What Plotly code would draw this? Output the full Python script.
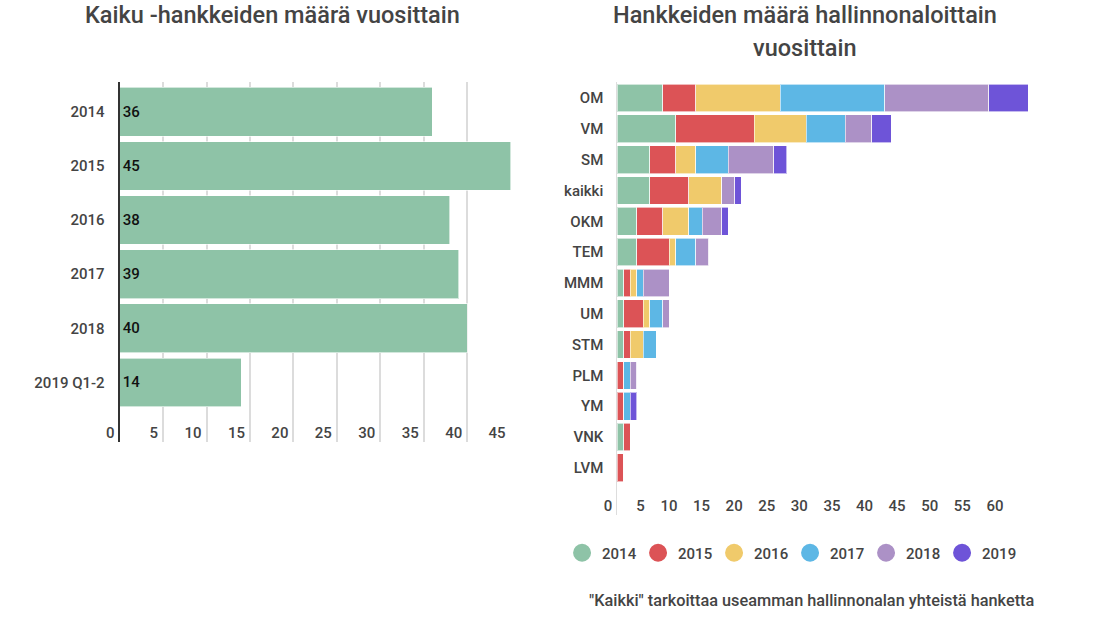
import plotly.graph_objects as go

# Vasen kaavio: hankkeet vuosittain
vuodet = ["2014", "2015", "2016", "2017", "2018", "2019 Q1-2"]
hankkeet = [36, 45, 38, 39, 40, 14]

# Oikea kaavio: hallinnonalat vuosittain
hallinnonalat = ["OM", "VM", "SM", "kaikki", "OKM", "TEM", "MMM", "UM", "STM", "PLM", "YM", "VNK", "LVM"]
sarjat = ["2014", "2015", "2016", "2017", "2018", "2019"]
arvot = {
    "2014": [7, 9, 5, 5, 3, 3, 1, 1, 1, 0, 0, 1, 0],
    "2015": [5, 12, 4, 6, 4, 5, 1, 3, 1, 1, 1, 1, 1],
    "2016": [13, 8, 3, 5, 4, 1, 1, 1, 2, 0, 0, 0, 0],
    "2017": [16, 6, 5, 0, 2, 3, 1, 2, 2, 1, 1, 0, 0],
    "2018": [16, 4, 7, 2, 3, 2, 4, 1, 0, 1, 0, 0, 0],
    "2019": [6, 3, 2, 1, 1, 0, 0, 0, 0, 0, 1, 0, 0],
}
varit = ["#8ec3a7", "#dc5356", "#f0ca6b", "#5db7e5", "#ac91c6", "#6e54d8"]

W, H = 1107, 617
FONT = "Roboto"
TXT = "#444444"


def px_x(v):
    return v / W


def px_y(v):
    return 1 - v / H


fig = go.Figure()

fig.add_trace(go.Bar(
    x=hankkeet, y=vuodet, orientation="h",
    marker=dict(color="#8ec3a7", line=dict(color="rgba(255,255,255,0.6)", width=1)),
    width=0.9,
    text=[str(v) for v in hankkeet],
    textposition="inside", insidetextanchor="start",
    textfont=dict(family=FONT, size=15, color="#111111", weight=500),
    showlegend=False, xaxis="x", yaxis="y", hoverinfo="x+y",
))

for s, c in zip(sarjat, varit):
    fig.add_trace(go.Bar(
        x=arvot[s], y=hallinnonalat, orientation="h", name=s,
        marker=dict(color=c, line=dict(color="rgba(255,255,255,0.6)", width=1)),
        width=0.9, showlegend=False, xaxis="x2", yaxis="y2",
    ))
    # selitteen ympyrät
    fig.add_trace(go.Scatter(
        x=[None], y=[None], mode="markers", name=s,
        marker=dict(color=c, size=18, symbol="circle", line=dict(color=c, width=2)),
        xaxis="x2", yaxis="y2", showlegend=True,
    ))

tick_font = dict(family=FONT, size=15, color=TXT, weight=500)
title_font = dict(family=FONT, size=23.5, color=TXT, weight=500)

fig.update_layout(
    width=W, height=H,
    margin=dict(l=0, r=0, t=0, b=0),
    paper_bgcolor="white", plot_bgcolor="white",
    barmode="stack",
    font=dict(family=FONT, color=TXT),
    xaxis=dict(
        domain=[px_x(107), px_x(503)], range=[0, 45],
        tickvals=[0, 5, 10, 15, 20, 25, 30, 35, 40, 45],
        showgrid=True, gridcolor="#dcdcdc", gridwidth=2,
        zeroline=False, showline=False,
        anchor="free", position=px_y(422),
        ticklabelposition="outside left", ticklabelshift=-5,
        tickfont=tick_font,
    ),
    yaxis=dict(
        domain=[px_y(442), px_y(82)],
        categoryorder="array", categoryarray=vuodet,
        range=[6.1, -0.55],
        showgrid=False, zeroline=False,
        showline=True, linecolor="#333333", linewidth=2,
        ticks="", ticklabelstandoff=10,
        tickfont=tick_font,
        anchor="x",
    ),
    xaxis2=dict(
        domain=[px_x(611), px_x(1027)], range=[0, 63],
        tickvals=[0, 5, 10, 15, 20, 25, 30, 35, 40, 45, 50, 55, 60],
        showgrid=False, zeroline=False, showline=False,
        anchor="free", position=px_y(495),
        ticklabelposition="outside left", ticklabelshift=-5,
        tickfont=tick_font,
    ),
    yaxis2=dict(
        domain=[px_y(515), px_y(82)],
        categoryorder="array", categoryarray=hallinnonalat,
        range=[13.53, -0.52],
        showgrid=False, zeroline=False,
        showline=True, linecolor="#dddddd", linewidth=1,
        ticks="", ticklabelstandoff=10,
        tickfont=tick_font,
        anchor="x2",
    ),
    legend=dict(
        orientation="h", x=px_x(786), xanchor="center", y=px_y(553), yanchor="middle",
        font=dict(family=FONT, size=15, color=TXT, weight=500),
        itemsizing="trace", entrywidth=31, traceorder="normal",
        bgcolor="rgba(0,0,0,0)",
    ),
    annotations=[
        dict(text="Kaiku -hankkeiden määrä vuosittain", x=px_x(262), y=px_y(15),
             xref="paper", yref="paper", showarrow=False, xanchor="center", yanchor="middle",
             font=title_font),
        dict(text="Hankkeiden määrä hallinnonaloittain", x=px_x(801), y=px_y(15),
             xref="paper", yref="paper", showarrow=False, xanchor="center", yanchor="middle",
             font=title_font),
        dict(text="vuosittain", x=px_x(801), y=px_y(48),
             xref="paper", yref="paper", showarrow=False, xanchor="center", yanchor="middle",
             font=title_font),
        dict(text="\"Kaikki\" tarkoittaa useamman hallinnonalan yhteistä hanketta",
             x=px_x(808), y=px_y(600), xref="paper", yref="paper", showarrow=False,
             xanchor="center", yanchor="middle",
             font=dict(family=FONT, size=16.3, color=TXT, weight=500)),
    ],
)

# sivun oletusmarginaali pois, jotta kuva alkaa vasemmasta yläkulmasta
fig.write_html("out.html", config={"displayModeBar": False},
               post_script="document.body.style.margin='0';")
